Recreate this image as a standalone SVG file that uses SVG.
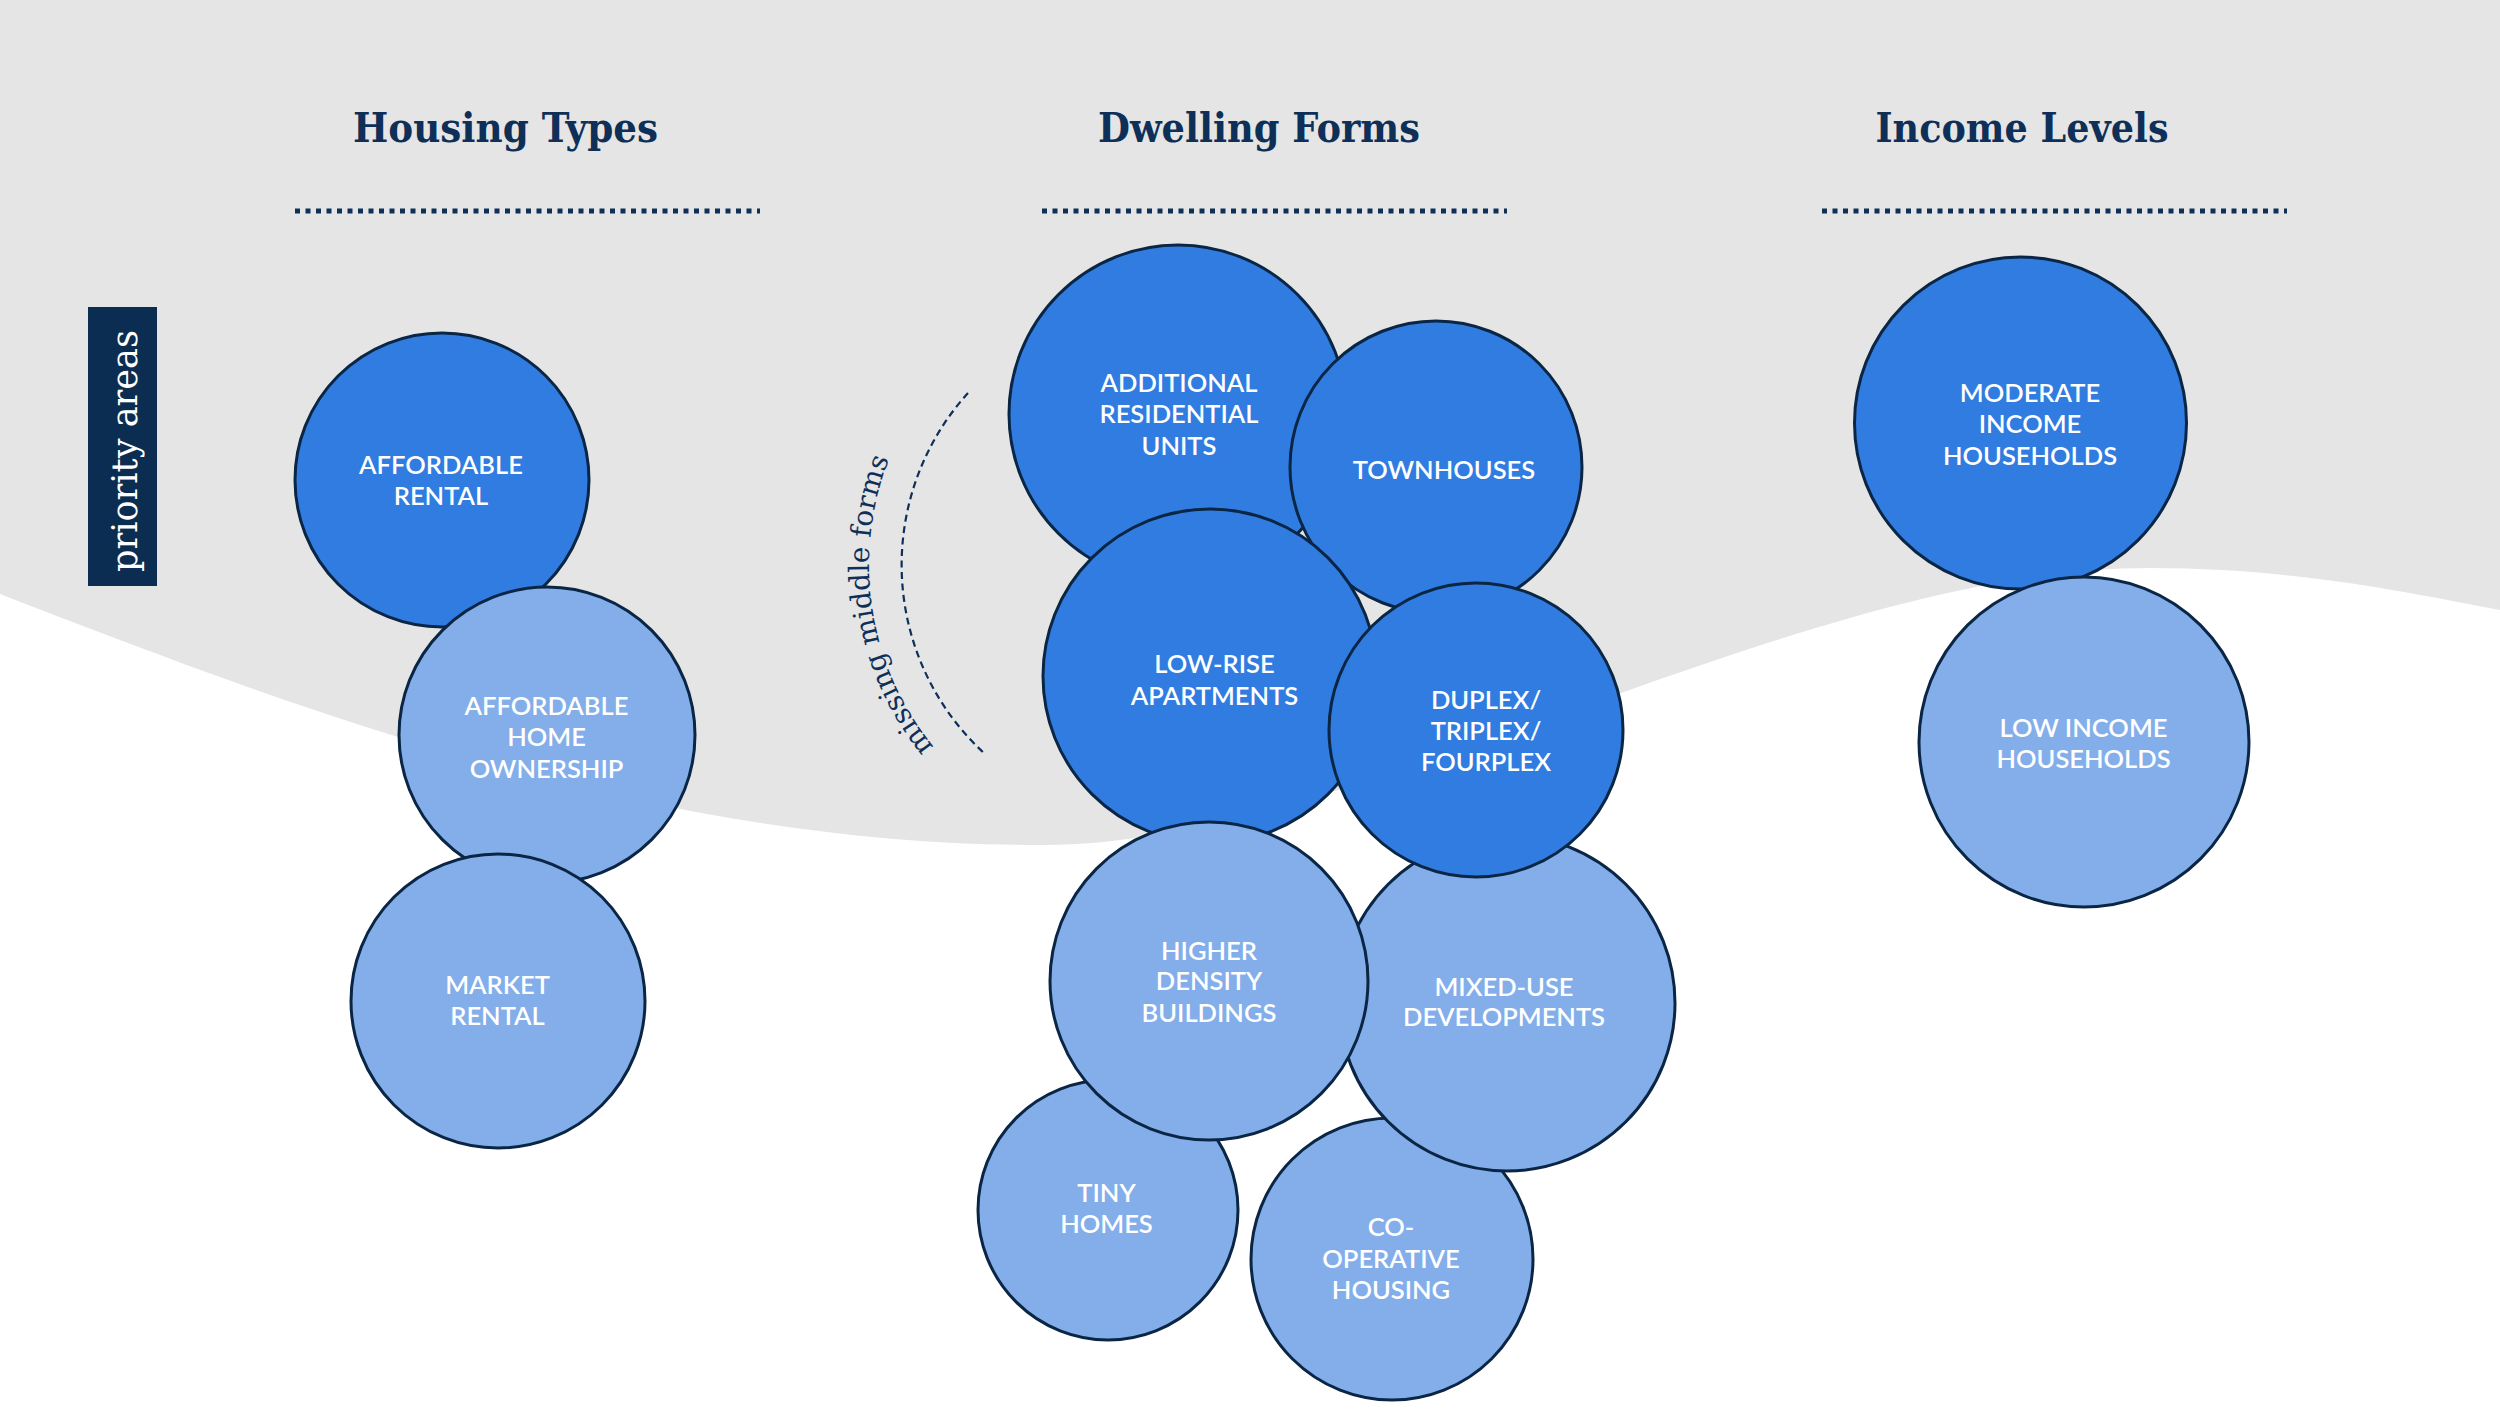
<svg xmlns="http://www.w3.org/2000/svg" width="2500" height="1428" viewBox="0 0 2500 1428">
  <defs>
    <style>
      .title { font-family: "DejaVu Serif", "Liberation Serif", serif; font-weight: bold; font-size: 41px; fill: #0e3058; text-anchor: middle; }
      .rule { stroke: #0e3058; stroke-width: 5; stroke-dasharray: 5 5.5; fill: none; }
      .dark { fill: #317ce0; stroke: #0a2644; stroke-width: 3; }
      .light { fill: #83aeea; stroke: #0a2644; stroke-width: 3; }
      .lbl { font-family: "Lato", "Liberation Sans", sans-serif; font-weight: 600; font-size: 25.5px; fill: #ffffff; text-anchor: middle; }
      .arcnote { font-family: "DejaVu Serif", "Liberation Serif", serif; font-size: 28px; fill: #0e3058; }
    </style>
    <path id="mmArc" d="M 971.9,785.6 A 288 288 0 0 1 913.8,410.7"/>
  </defs>

  <!-- background -->
  <rect x="0" y="0" width="2500" height="1428" fill="#ffffff"/>
  <path d="M 0,0 L 2500,0 L 2500,610 C 2420,595 2300,568 2150,568 C 1800,568 1350,848 1040,845 C 650,845 300,710 0,594 Z" fill="#e5e5e5"/>

  <!-- headings -->
  <g id="heading-housing-types">
    <text class="title" x="505.5" y="142" textLength="305" lengthAdjust="spacingAndGlyphs">Housing Types</text>
    <line class="rule" x1="295" y1="211" x2="760" y2="211"/>
  </g>
  <g id="heading-dwelling-forms">
    <text class="title" x="1259" y="142" textLength="322" lengthAdjust="spacingAndGlyphs">Dwelling Forms</text>
    <line class="rule" x1="1042" y1="211" x2="1507" y2="211"/>
  </g>
  <g id="heading-income-levels">
    <text class="title" x="2022" y="142" textLength="293" lengthAdjust="spacingAndGlyphs">Income Levels</text>
    <line class="rule" x1="1822" y1="211" x2="2287" y2="211"/>
  </g>

  <!-- priority areas tag -->
  <g id="priority-areas">
    <rect x="88" y="307" width="69" height="279" fill="#0b2d52"/>
    <text transform="translate(137.3,451) rotate(-90)" x="0" y="0" font-family="DejaVu Serif, Liberation Serif, serif" font-size="35" fill="#ffffff" text-anchor="middle" textLength="242" lengthAdjust="spacingAndGlyphs">priority areas</text>
  </g>

  <!-- missing middle annotation -->
  <g id="missing-middle">
    <path d="M 968,393 A 256 256 0 0 0 985,754" fill="none" stroke="#0e3058" stroke-width="2.2" stroke-dasharray="7 4.5"/>
    <text class="arcnote"><textPath href="#mmArc" startOffset="50%" text-anchor="middle">missing middle forms</textPath></text>
  </g>

  <!-- Housing Types -->
  <g id="affordable-rental">
    <circle class="dark" cx="442" cy="480" r="147"/>
    <text class="lbl" x="441" y="474">AFFORDABLE</text>
    <text class="lbl" x="441" y="504.5">RENTAL</text>
  </g>
  <g id="affordable-home-ownership">
    <circle class="light" cx="547" cy="735" r="148"/>
    <text class="lbl" x="546.5" y="715">AFFORDABLE</text>
    <text class="lbl" x="546.5" y="746">HOME</text>
    <text class="lbl" x="546.5" y="778">OWNERSHIP</text>
  </g>
  <g id="market-rental">
    <circle class="light" cx="498" cy="1001" r="147"/>
    <text class="lbl" x="497.5" y="993.5">MARKET</text>
    <text class="lbl" x="497.5" y="1024.5">RENTAL</text>
  </g>

  <!-- Dwelling Forms -->
  <g id="additional-residential-units">
    <circle class="dark" cx="1178" cy="414" r="169"/>
    <text class="lbl" x="1179" y="392">ADDITIONAL</text>
    <text class="lbl" x="1179" y="423">RESIDENTIAL</text>
    <text class="lbl" x="1179" y="454.5">UNITS</text>
  </g>
  <g id="townhouses">
    <circle class="dark" cx="1436" cy="467" r="146"/>
    <text class="lbl" x="1444" y="479">TOWNHOUSES</text>
  </g>
  <g id="low-rise-apartments">
    <circle class="dark" cx="1210" cy="676" r="167"/>
    <text class="lbl" x="1214.5" y="673">LOW-RISE</text>
    <text class="lbl" x="1214.5" y="704.5">APARTMENTS</text>
  </g>
  <g id="tiny-homes">
    <circle class="light" cx="1108" cy="1210" r="130"/>
    <text class="lbl" x="1106.5" y="1202">TINY</text>
    <text class="lbl" x="1106.5" y="1233">HOMES</text>
  </g>
  <g id="co-operative-housing">
    <circle class="light" cx="1392" cy="1259" r="141"/>
    <text class="lbl" x="1391" y="1236">CO-</text>
    <text class="lbl" x="1391" y="1267.5">OPERATIVE</text>
    <text class="lbl" x="1391" y="1299">HOUSING</text>
  </g>
  <g id="mixed-use-developments">
    <circle class="light" cx="1507" cy="1003" r="168"/>
    <text class="lbl" x="1504" y="995.5">MIXED-USE</text>
    <text class="lbl" x="1504" y="1026">DEVELOPMENTS</text>
  </g>
  <g id="higher-density-buildings">
    <circle class="light" cx="1209" cy="981" r="159"/>
    <text class="lbl" x="1209" y="959.5">HIGHER</text>
    <text class="lbl" x="1209" y="990">DENSITY</text>
    <text class="lbl" x="1209" y="1022">BUILDINGS</text>
  </g>
  <g id="duplex-triplex-fourplex">
    <circle class="dark" cx="1476" cy="730" r="147"/>
    <text class="lbl" x="1486" y="709">DUPLEX/</text>
    <text class="lbl" x="1486" y="740">TRIPLEX/</text>
    <text class="lbl" x="1486" y="770.5">FOURPLEX</text>
  </g>

  <!-- Income Levels -->
  <g id="moderate-income-households">
    <circle class="dark" cx="2020.5" cy="423" r="166"/>
    <text class="lbl" x="2030" y="402">MODERATE</text>
    <text class="lbl" x="2030" y="433">INCOME</text>
    <text class="lbl" x="2030" y="465">HOUSEHOLDS</text>
  </g>
  <g id="low-income-households">
    <circle class="light" cx="2084" cy="742" r="165"/>
    <text class="lbl" x="2083.5" y="737">LOW INCOME</text>
    <text class="lbl" x="2083.5" y="768">HOUSEHOLDS</text>
  </g>

  <g id="connectors"></g>
</svg>
